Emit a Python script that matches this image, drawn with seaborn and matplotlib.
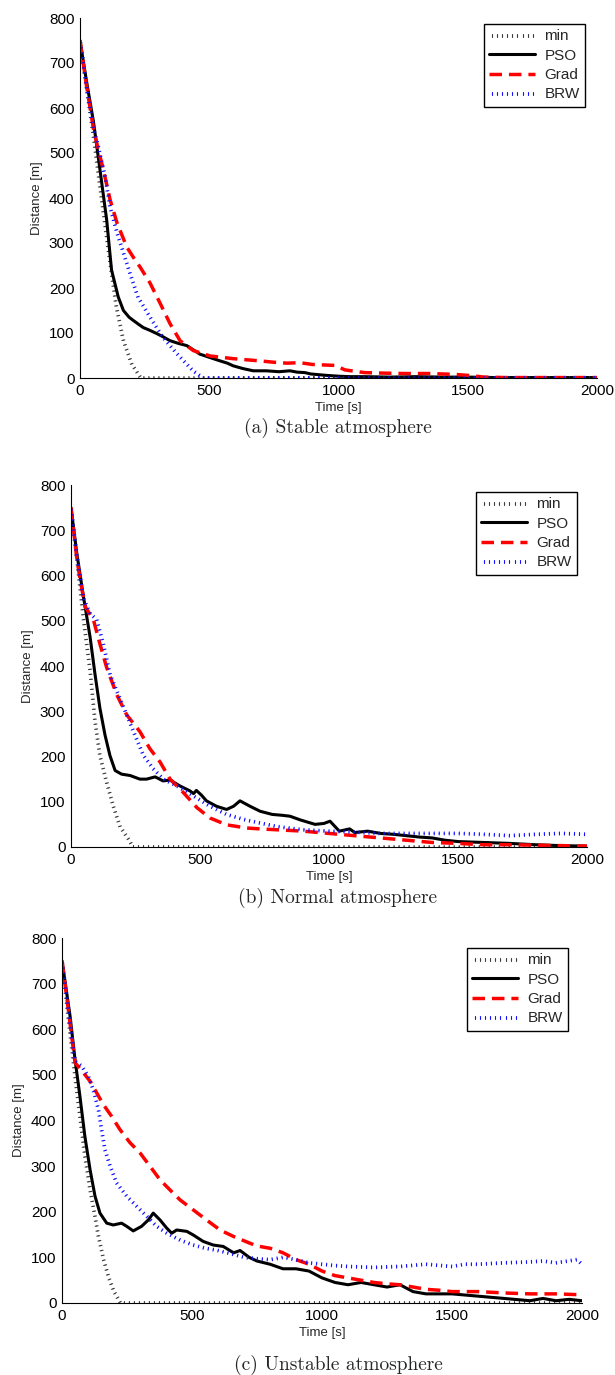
import matplotlib
matplotlib.use("Agg")
import matplotlib.pyplot as plt
import matplotlib.patheffects as pe
import seaborn as sns

# ---------------------------------------------------------------- data
# (a) Stable atmosphere
stable_min_t = [0, 25, 52, 77, 103, 122, 141, 168, 200, 235, 2000]
stable_min_d = [750, 645, 538, 426, 314, 233, 157, 83, 31, 0, 0]
stable_pso_t = [0, 25, 52, 77, 103, 122, 148, 168, 190, 206, 225, 245, 270, 296, 320, 348,
                380, 413, 440, 464, 500, 542, 570, 593, 630, 670, 720, 770, 812, 840, 870,
                892, 950, 1000, 1044, 1100, 1200, 1300, 1400, 1500, 1600, 1700, 1800, 1900, 2000]
stable_pso_d = [750, 660, 570, 464, 352, 240, 180, 150, 135, 128, 120, 112, 106, 99, 92, 83,
                77, 72, 62, 53, 46, 38, 33, 27, 21, 16, 16, 14, 16, 13, 12,
                9, 6, 4, 3, 3, 2, 3, 2, 2, 1, 1, 1, 1, 1]
stable_grad_t = [0, 25, 52, 70, 90, 116, 143, 181, 210, 232, 271, 310, 348, 387, 438, 503,
                 592, 696, 750, 800, 851, 900, 986, 1025, 1100, 1160, 1250, 1350, 1450, 1520,
                 1560, 1650, 1800, 2000]
stable_grad_d = [750, 650, 554, 509, 464, 397, 345, 291, 265, 247, 211, 166, 121, 83, 61, 49,
                 43, 38, 35, 33, 34, 30, 28, 18, 12, 11, 10, 10, 8, 5,
                 2, 1, 1, 1]
stable_brw_t = [0, 25, 52, 70, 97, 116, 143, 168, 193, 224, 271, 321, 375, 437, 476, 2000]
stable_brw_d = [750, 650, 555, 516, 448, 381, 323, 278, 233, 180, 135, 90, 54, 16, 0, 0]

# (b) Normal atmosphere
normal_min_t = [0, 22, 48, 74, 93, 112, 138, 164, 190, 222, 240, 2000]
normal_min_d = [750, 640, 505, 390, 278, 202, 143, 90, 45, 18, 0, 0]
normal_pso_t = [0, 22, 48, 74, 93, 112, 132, 151, 171, 196, 229, 267, 293, 326, 357, 384,
                422, 461, 475, 486, 505, 525, 564, 603, 630, 655, 694, 733, 780, 820, 849,
                888, 946, 980, 1004, 1040, 1080, 1100, 1150, 1200, 1250, 1300, 1350, 1400,
                1450, 1500, 1600, 1700, 1800, 1900, 2000]
normal_pso_d = [750, 651, 554, 464, 382, 307, 247, 202, 169, 161, 158, 150, 150, 155, 146, 148,
                135, 124, 118, 125, 115, 102, 90, 83, 90, 102, 90, 79, 72, 70, 68,
                60, 50, 52, 57, 35, 40, 32, 35, 30, 28, 25, 22, 20,
                15, 12, 10, 8, 5, 3, 2]
normal_grad_t = [0, 22, 35, 55, 87, 112, 138, 177, 216, 267, 306, 345, 384, 436, 488, 539,
                 603, 680, 733, 800, 900, 1000, 1100, 1200, 1300, 1400, 1500, 1600, 1700,
                 1800, 1900, 2000]
normal_grad_d = [750, 640, 592, 531, 502, 449, 397, 337, 292, 255, 217, 188, 150, 120, 87, 64,
                 49, 42, 40, 38, 35, 30, 25, 20, 15, 10, 8, 5, 5,
                 4, 3, 2]
normal_brw_t = [0, 22, 48, 74, 100, 125, 151, 183, 216, 248, 281, 320, 358, 410, 474, 539,
                603, 668, 733, 800, 900, 1000, 1100, 1200, 1300, 1400, 1500, 1600, 1700,
                1800, 1900, 2000]
normal_brw_d = [750, 645, 550, 516, 502, 449, 382, 337, 292, 247, 202, 172, 150, 135, 113, 90,
                72, 61, 53, 45, 38, 35, 33, 30, 30, 30, 30, 28, 25,
                28, 30, 28]

# (c) Unstable atmosphere
unstable_min_t = [0, 25, 50, 69, 88, 108, 127, 140, 160, 180, 200, 225, 2000]
unstable_min_d = [750, 620, 497, 409, 322, 248, 190, 146, 95, 55, 25, 0, 0]
unstable_pso_t = [0, 31, 50, 69, 88, 108, 127, 146, 172, 197, 229, 249, 274, 306, 332, 351,
                  377, 403, 422, 441, 480, 505, 543, 582, 620, 660, 685, 720, 750, 800, 850,
                  900, 950, 1000, 1050, 1100, 1150, 1200, 1250, 1300, 1350, 1400, 1450, 1500,
                  1600, 1700, 1800, 1850, 1900, 1950, 2000]
unstable_pso_d = [750, 629, 534, 453, 365, 292, 234, 197, 175, 171, 175, 168, 158, 168, 182, 197,
                  182, 164, 153, 160, 157, 149, 135, 127, 124, 110, 115, 100, 92, 85, 75,
                  75, 70, 55, 45, 40, 45, 40, 35, 40, 25, 20, 20, 20,
                  15, 10, 5, 10, 5, 8, 5]
unstable_grad_t = [0, 25, 50, 82, 108, 133, 159, 191, 223, 262, 300, 338, 377, 415, 454, 505,
                   556, 608, 659, 723, 750, 800, 850, 900, 950, 1000, 1050, 1100, 1150, 1200,
                   1250, 1300, 1350, 1400, 1450, 1500, 1600, 1700, 1800, 1900, 2000]
unstable_grad_d = [750, 640, 527, 505, 486, 461, 435, 409, 380, 351, 329, 300, 270, 248, 226, 204,
                   182, 160, 146, 131, 125, 120, 110, 95, 85, 70, 60, 55, 50, 45,
                   42, 40, 35, 30, 28, 25, 25, 22, 20, 20, 18]
unstable_brw_t = [0, 25, 50, 76, 101, 120, 140, 152, 165, 185, 210, 249, 287, 326, 364, 403,
                  454, 505, 550, 600, 650, 700, 750, 800, 850, 900, 950, 1000, 1050, 1100,
                  1200, 1300, 1400, 1500, 1550, 1600, 1700, 1800, 1850, 1900, 1980, 2000]
unstable_brw_d = [750, 640, 530, 519, 497, 468, 424, 380, 336, 300, 263, 234, 212, 190, 168, 153,
                  138, 127, 120, 115, 108, 100, 97, 95, 100, 95, 88, 85, 82, 80,
                  78, 80, 85, 80, 85, 85, 88, 90, 92, 88, 95, 85]

series_labels = ["min", "PSO", "Grad", "BRW"]
captions = ["(a) Stable atmosphere", "(b) Normal atmosphere", "(c) Unstable atmosphere"]
x_ticks = [0, 500, 1000, 1500, 2000]
y_ticks = [0, 100, 200, 300, 400, 500, 600, 700, 800]

panels = [
    [(stable_min_t, stable_min_d), (stable_pso_t, stable_pso_d),
     (stable_grad_t, stable_grad_d), (stable_brw_t, stable_brw_d)],
    [(normal_min_t, normal_min_d), (normal_pso_t, normal_pso_d),
     (normal_grad_t, normal_grad_d), (normal_brw_t, normal_brw_d)],
    [(unstable_min_t, unstable_min_d), (unstable_pso_t, unstable_pso_d),
     (unstable_grad_t, unstable_grad_d), (unstable_brw_t, unstable_brw_d)],
]

# ---------------------------------------------------------------- style
sns.set_theme(style="white")
plt.rcParams["font.family"] = ["Liberation Sans", "DejaVu Sans"]

W, H = 615, 1375
fig = plt.figure(figsize=(W / 100, H / 100), dpi=100)
fig.patch.set_facecolor("white")

# axes boxes in pixels: left, right, top, bottom
boxes = [(80, 597, 18, 378), (71, 587, 485, 847), (62, 582, 938, 1303)]
legend_corner = [(585, 24), (577, 492), (568, 948)]
caption_y = [428, 898, 1365]


def dotted(spacing=3.6, length=0.3):
    # dotted rendering: short strokes across the path, no continuous line
    return [pe.TickedStroke(angle=90, spacing=spacing, length=length),
            pe.TickedStroke(angle=-90, spacing=spacing, length=length)]


styles = [
    dict(color="#3a3a3a", linewidth=0.8, path_effects=dotted()),
    dict(color="black", linewidth=2.2, linestyle="-"),
    dict(color="#ff0000", linewidth=2.5, linestyle=(0, (3.6, 2.0))),
    dict(color="#1010ff", linewidth=0.8, path_effects=dotted()),
]

for (l, r, t, b), data, (lx, ly), cap, cy in zip(boxes, panels, legend_corner, captions, caption_y):
    ax = fig.add_axes([l / W, 1 - b / H, (r - l) / W, (b - t) / H])
    ax.set_facecolor("white")
    for (tt, dd), lab, st in zip(data, series_labels, styles):
        sns.lineplot(x=tt, y=dd, ax=ax, label=lab, estimator=None, sort=False, **st)

    ax.set_xlim(0, 2000)
    ax.set_ylim(0, 800)
    ax.set_xticks(x_ticks)
    ax.set_yticks(y_ticks)
    ax.tick_params(direction="in", length=4, width=0.8, labelsize=11, colors="black",
                   top=False, right=False, pad=4)
    for side in ("top", "right"):
        ax.spines[side].set_visible(False)
    for side in ("left", "bottom"):
        ax.spines[side].set_color("black")
        ax.spines[side].set_linewidth(0.8)
    ax.set_xlabel("Time [s]", fontsize=9.5, labelpad=3)
    ax.set_ylabel("Distance [m]", fontsize=9.5, labelpad=4)

    leg = ax.legend(loc="upper right",
                    bbox_to_anchor=((lx - l) / (r - l), (b - ly) / (b - t)),
                    prop={"size": 11}, frameon=True, fancybox=False, framealpha=1,
                    edgecolor="black", handlelength=3.0, handletextpad=0.6,
                    labelspacing=0.35, borderpad=0.35, borderaxespad=0)
    leg.get_frame().set_linewidth(1.0)

    fig.text(338 / W, 1 - cy / H, cap, ha="center", va="center",
             fontsize=14, family="cmr10")

fig.savefig("out.png", dpi=100, facecolor="white")
